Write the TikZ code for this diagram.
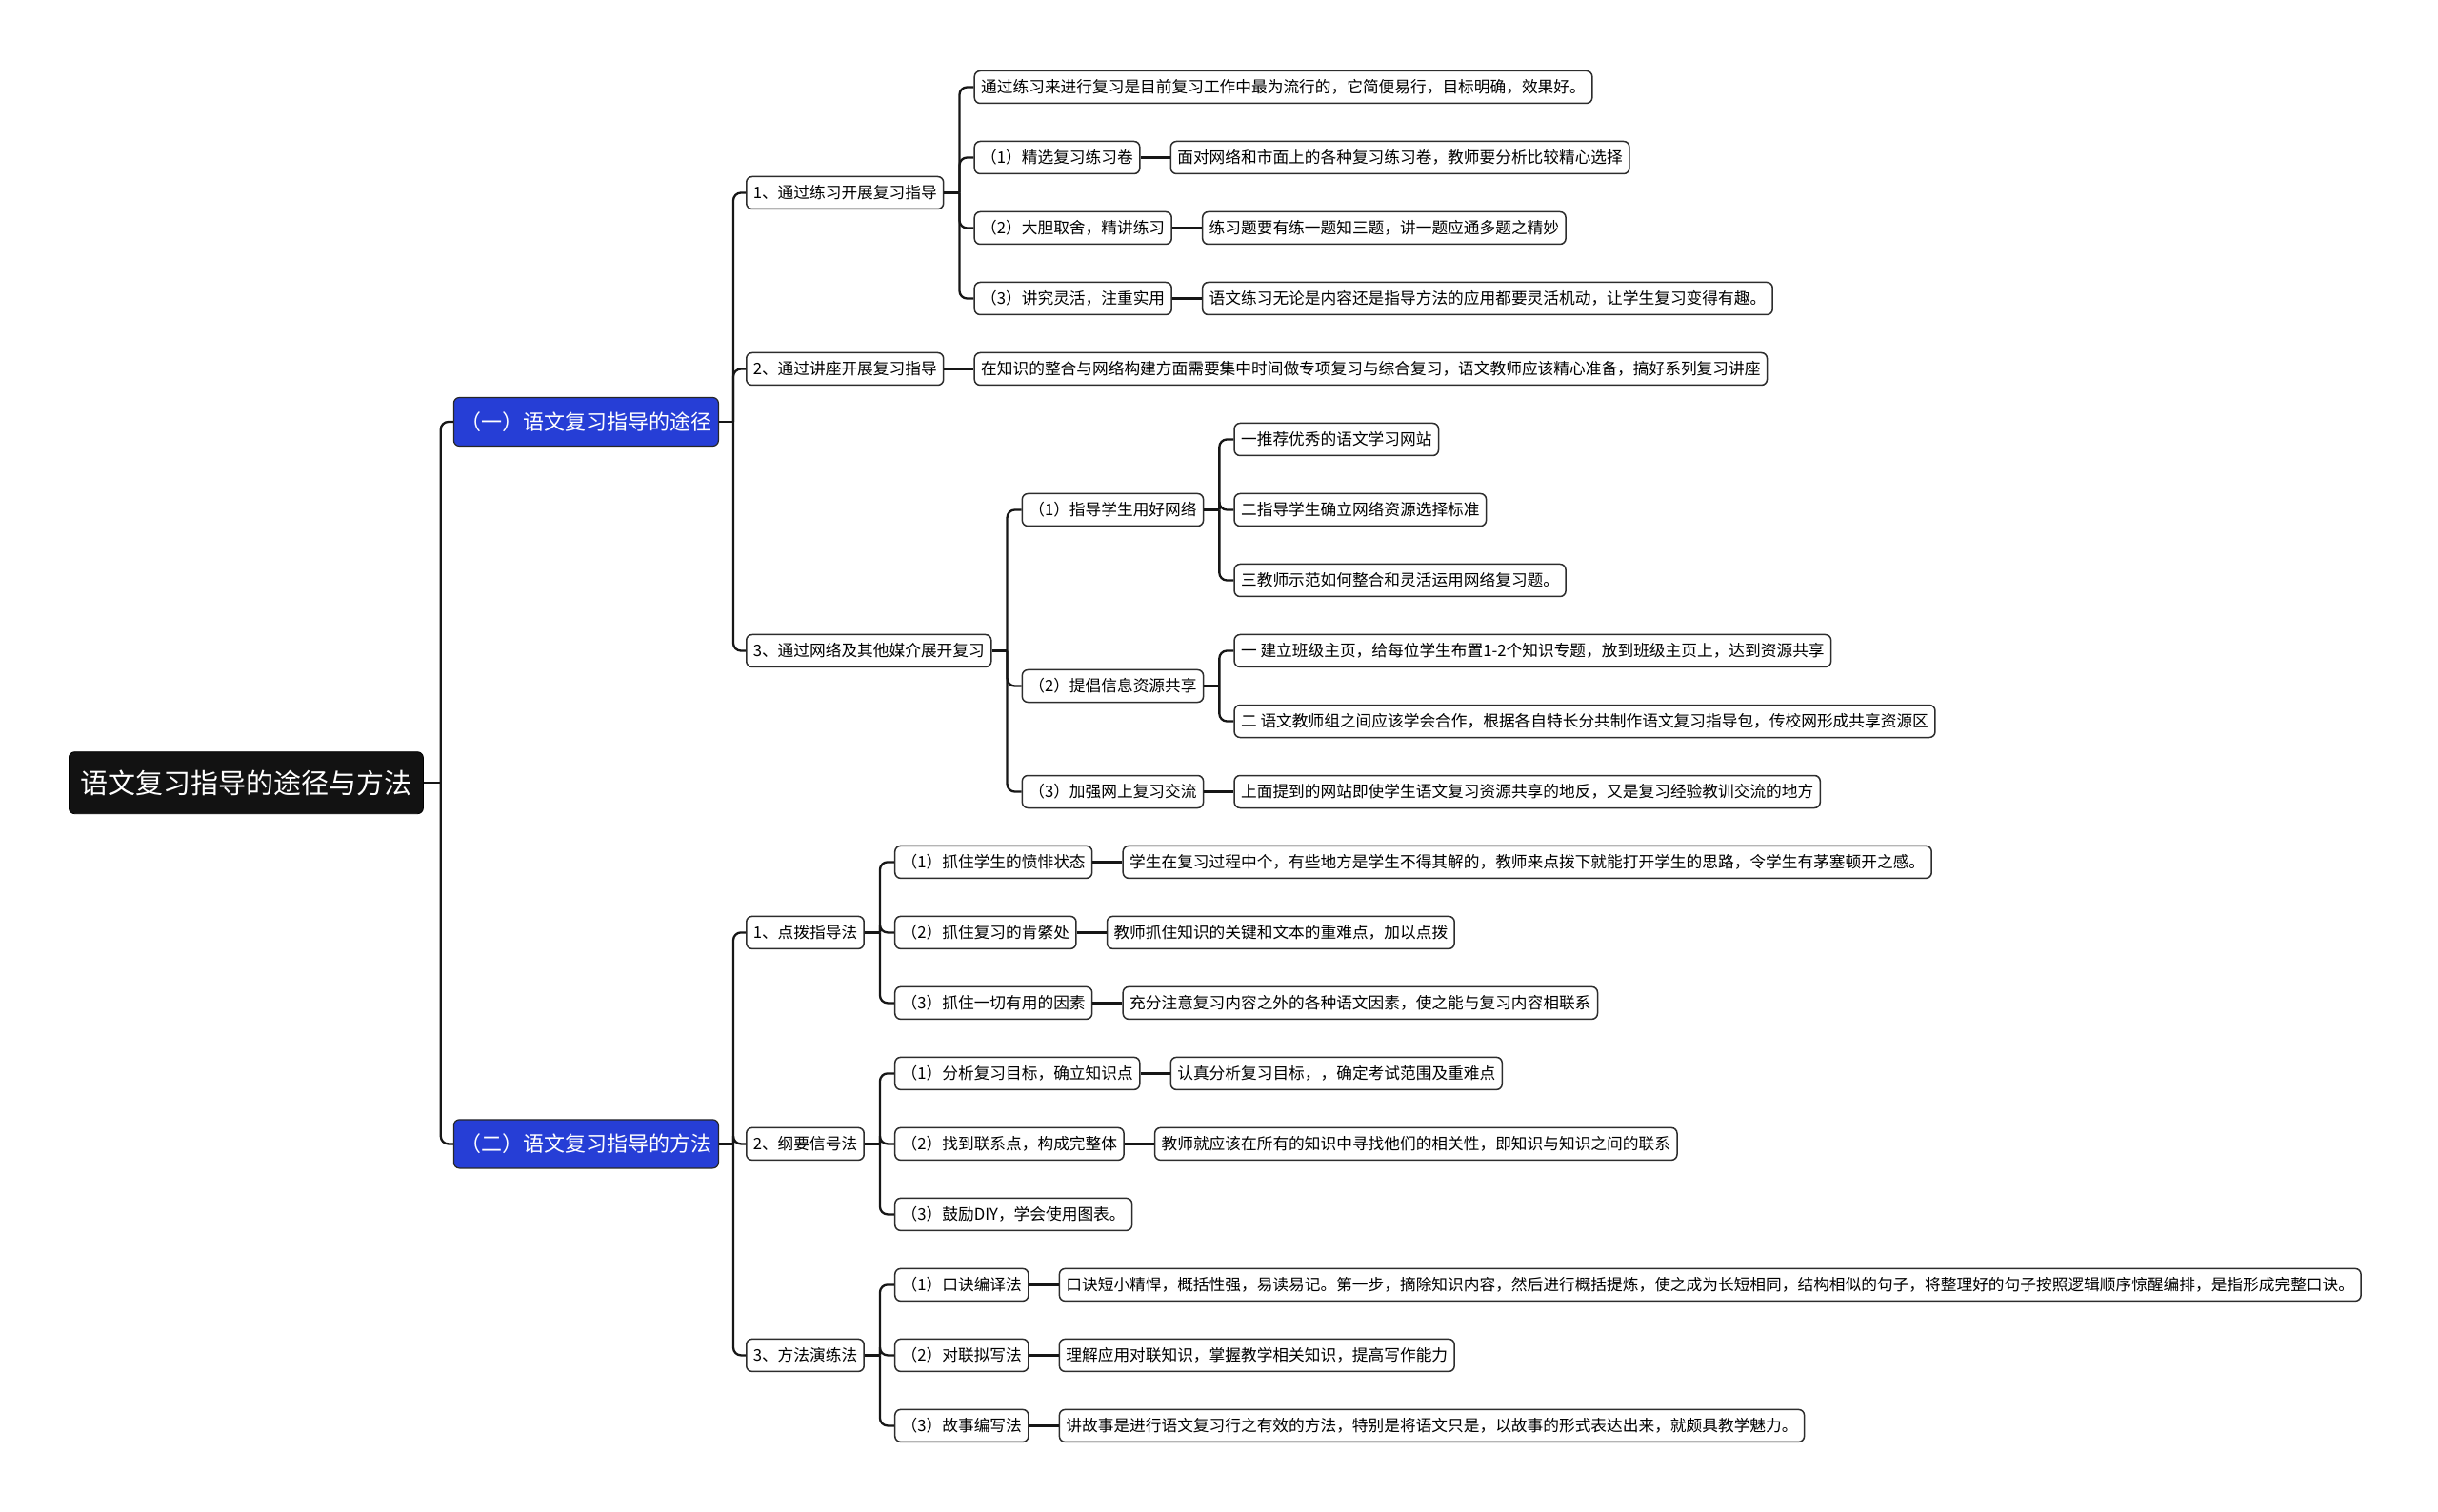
\documentclass[tikz,border=0pt]{standalone}
\usepackage{fontspec}
\setmainfont{Noto Sans CJK SC}
\usepackage{tikz}
\usetikzlibrary{positioning}
\definecolor{bluebox}{RGB}{38,62,214}
\definecolor{linec}{RGB}{22,22,22}
\definecolor{edgec}{RGB}{45,45,45}

\begin{document}
\begin{tikzpicture}
[-,line join=round,
  root node/.style={rectangle,rounded corners=3pt,fill=black!93,draw=black,text=white,font=\fontsize{14.5pt}{17pt}\selectfont,inner xsep=6pt,inner ysep=0pt,minimum height=32.5pt},
  main node/.style={rectangle,rounded corners=3pt,fill=bluebox,draw=black!85,line width=0.6pt,text=white,font=\fontsize{11pt}{13pt}\selectfont,inner xsep=3.5pt,inner ysep=0pt,minimum height=25.5pt},
  sub node/.style={rectangle,rounded corners=3pt,fill=white,draw=edgec,line width=0.75pt,font=\fontsize{8.35pt}{10pt}\selectfont,inner xsep=3.5pt,inner ysep=0pt,minimum height=17pt},
  link/.style={draw=linec,line width=1.15pt},
  elbow/.style={link,rounded corners=4pt,to path={|- (\tikztotarget)}}]

  \useasboundingbox (0,0) rectangle (1280pt,-794pt);

  \node[root node] (R) [anchor=west] at (36pt,-411.1pt) {语文复习指导的途径与方法};
  \node[main node] (A) [right=15.5pt of R, yshift=189.6pt] {（一）语文复习指导的途径};
  \node[main node] (B) [right=15.5pt of R, yshift=-189.6pt] {（二）语文复习指导的方法};

  % (一) 途径
  \node[sub node] (A1) [right=14pt of A, yshift=120.25pt] {1、通过练习开展复习指导};
  \node[sub node] (A2) [right=14pt of A, yshift=27.75pt] {2、通过讲座开展复习指导};
  \node[sub node] (A3) [right=14pt of A, yshift=-120.25pt] {3、通过网络及其他媒介展开复习};

  \node[sub node] (a0) [right=15.5pt of A1, yshift=55.5pt] {通过练习来进行复习是目前复习工作中最为流行的，它简便易行，目标明确，效果好。};
  \node[sub node] (a1) [right=15.5pt of A1, yshift=18.5pt] {（1）精选复习练习卷};
  \node[sub node] (a2) [right=15.5pt of A1, yshift=-18.5pt] {（2）大胆取舍，精讲练习};
  \node[sub node] (a3) [right=15.5pt of A1, yshift=-55.5pt] {（3）讲究灵活，注重实用};
  \node[sub node] (a1x) [right=15.5pt of a1] {面对网络和市面上的各种复习练习卷，教师要分析比较精心选择};
  \node[sub node] (a2x) [right=15.5pt of a2] {练习题要有练一题知三题，讲一题应通多题之精妙};
  \node[sub node] (a3x) [right=15.5pt of a3] {语文练习无论是内容还是指导方法的应用都要灵活机动，让学生复习变得有趣。};

  \node[sub node] (A2x) [right=15.5pt of A2] {在知识的整合与网络构建方面需要集中时间做专项复习与综合复习，语文教师应该精心准备，搞好系列复习讲座};

  \node[sub node] (c1) [right=15.5pt of A3, yshift=74pt] {（1）指导学生用好网络};
  \node[sub node] (c2) [right=15.5pt of A3, yshift=-18.5pt] {（2）提倡信息资源共享};
  \node[sub node] (c3) [right=15.5pt of A3, yshift=-74pt] {（3）加强网上复习交流};
  \node[sub node] (c1a) [right=15.5pt of c1, yshift=37pt] {一推荐优秀的语文学习网站};
  \node[sub node] (c1b) [right=15.5pt of c1] {二指导学生确立网络资源选择标准};
  \node[sub node] (c1c) [right=15.5pt of c1, yshift=-37pt] {三教师示范如何整合和灵活运用网络复习题。};
  \node[sub node] (c2a) [right=15.5pt of c2, yshift=18.5pt] {一 建立班级主页，给每位学生布置1-2个知识专题，放到班级主页上，达到资源共享};
  \node[sub node] (c2b) [right=15.5pt of c2, yshift=-18.5pt] {二 语文教师组之间应该学会合作，根据各自特长分共制作语文复习指导包，传校网形成共享资源区};
  \node[sub node] (c3x) [right=15.5pt of c3] {上面提到的网站即使学生语文复习资源共享的地反，又是复习经验教训交流的地方};

  % (二) 方法
  \node[sub node] (B1) [right=14pt of B, yshift=111pt] {1、点拨指导法};
  \node[sub node] (B2) [right=14pt of B] {2、纲要信号法};
  \node[sub node] (B3) [right=14pt of B, yshift=-111pt] {3、方法演练法};

  \node[sub node] (d1) [right=15.5pt of B1, yshift=37pt] {（1）抓住学生的愤悱状态};
  \node[sub node] (d2) [right=15.5pt of B1] {（2）抓住复习的肯綮处};
  \node[sub node] (d3) [right=15.5pt of B1, yshift=-37pt] {（3）抓住一切有用的因素};
  \node[sub node] (d1x) [right=15.5pt of d1] {学生在复习过程中个，有些地方是学生不得其解的，教师来点拨下就能打开学生的思路，令学生有茅塞顿开之感。};
  \node[sub node] (d2x) [right=15.5pt of d2] {教师抓住知识的关键和文本的重难点，加以点拨};
  \node[sub node] (d3x) [right=15.5pt of d3] {充分注意复习内容之外的各种语文因素，使之能与复习内容相联系};

  \node[sub node] (e1) [right=15.5pt of B2, yshift=37pt] {（1）分析复习目标，确立知识点};
  \node[sub node] (e2) [right=15.5pt of B2] {（2）找到联系点，构成完整体};
  \node[sub node] (e3) [right=15.5pt of B2, yshift=-37pt] {（3）鼓励DIY，学会使用图表。};
  \node[sub node] (e1x) [right=15.5pt of e1] {认真分析复习目标，，确定考试范围及重难点};
  \node[sub node] (e2x) [right=15.5pt of e2] {教师就应该在所有的知识中寻找他们的相关性，即知识与知识之间的联系};

  \node[sub node] (f1) [right=15.5pt of B3, yshift=37pt] {（1）口诀编译法};
  \node[sub node] (f2) [right=15.5pt of B3] {（2）对联拟写法};
  \node[sub node] (f3) [right=15.5pt of B3, yshift=-37pt] {（3）故事编写法};
  \node[sub node] (f1x) [right=15.5pt of f1] {口诀短小精悍，概括性强，易读易记。第一步，摘除知识内容，然后进行概括提炼，使之成为长短相同，结构相似的句子，将整理好的句子按照逻辑顺序惊醒编排，是指形成完整口诀。};
  \node[sub node] (f2x) [right=15.5pt of f2] {理解应用对联知识，掌握教学相关知识，提高写作能力};
  \node[sub node] (f3x) [right=15.5pt of f3] {讲故事是进行语文复习行之有效的方法，特别是将语文只是，以故事的形式表达出来，就颇具教学魅力。};

  % trunks
  \coordinate[right=9pt of R] (tR);
  \coordinate[right=7.5pt of A] (tA);
  \coordinate[right=7.5pt of B] (tB);
  \coordinate[right=8pt of A1] (tA1);
  \coordinate[right=8pt of A3] (tA3);
  \coordinate[right=8pt of c1] (tc1);
  \coordinate[right=8pt of c2] (tc2);
  \coordinate[right=8pt of B1] (tB1);
  \coordinate[right=8pt of B2] (tB2);
  \coordinate[right=8pt of B3] (tB3);

  \path (R) edge[link] (tR)
        (tR) edge[elbow] (A) edge[elbow] (B)
        (A) edge[link] (tA)
        (tA) edge[elbow] (A1) edge[elbow] (A2) edge[elbow] (A3)
        (A1) edge[link] (tA1)
        (tA1) edge[elbow] (a0) edge[elbow] (a1) edge[elbow] (a2) edge[elbow] (a3)
        (a1) edge[link] (a1x)
        (a2) edge[link] (a2x)
        (a3) edge[link] (a3x)
        (A2) edge[link] (A2x)
        (A3) edge[link] (tA3)
        (tA3) edge[elbow] (c1) edge[elbow] (c2) edge[elbow] (c3)
        (c1) edge[link] (tc1)
        (tc1) edge[elbow] (c1a) edge[elbow] (c1b) edge[elbow] (c1c)
        (c2) edge[link] (tc2)
        (tc2) edge[elbow] (c2a) edge[elbow] (c2b)
        (c3) edge[link] (c3x);

  \path (B) edge[link] (tB)
        (tB) edge[elbow] (B1) edge[elbow] (B2) edge[elbow] (B3)
        (B1) edge[link] (tB1)
        (tB1) edge[elbow] (d1) edge[elbow] (d2) edge[elbow] (d3)
        (d1) edge[link] (d1x)
        (d2) edge[link] (d2x)
        (d3) edge[link] (d3x)
        (B2) edge[link] (tB2)
        (tB2) edge[elbow] (e1) edge[elbow] (e2) edge[elbow] (e3)
        (e1) edge[link] (e1x)
        (e2) edge[link] (e2x)
        (B3) edge[link] (tB3)
        (tB3) edge[elbow] (f1) edge[elbow] (f2) edge[elbow] (f3)
        (f1) edge[link] (f1x)
        (f2) edge[link] (f2x)
        (f3) edge[link] (f3x);
\end{tikzpicture}
\end{document}
